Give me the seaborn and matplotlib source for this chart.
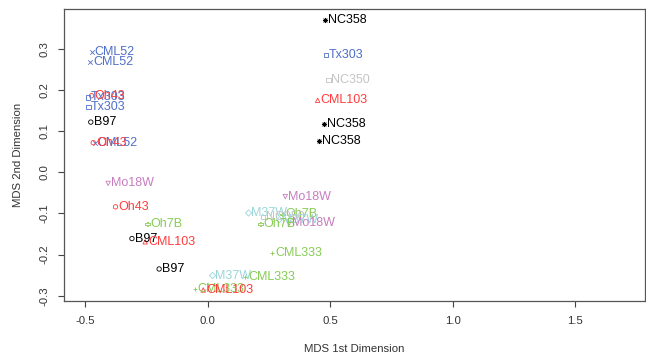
import matplotlib
matplotlib.use('Agg')
import matplotlib.pyplot as plt
from matplotlib.markers import MarkerStyle
import seaborn as sns
import pandas as pd

# MDS coordinates
muestras = ["NC358", "CML52", "CML52", "Tx303", "NC350", "CML103", "NC358", "NC358",
            "Tx303", "Oh43", "Tx303", "B97", "CML52", "Oh43", "Mo18W", "Oh43",
            "Oh7B", "B97", "CML103", "B97", "M37W", "CML333", "CML333", "CML103",
            "CML333", "Mo18W", "M37W", "Oh7B", "NC350", "M37W", "Oh7B", "Mo18W"]
dim1 = [0.478, -0.475, -0.480, 0.481, 0.493, 0.448, 0.475, 0.453,
        -0.490, -0.475, -0.488, -0.478, -0.461, -0.468, -0.407, -0.377,
        -0.247, -0.310, -0.256, -0.199, 0.019, 0.152, -0.054, -0.019,
        0.263, 0.316, 0.166, 0.305, 0.226, 0.292, 0.214, 0.331]
dim2 = [0.371, 0.292, 0.267, 0.285, 0.225, 0.175, 0.118, 0.075,
        0.182, 0.186, 0.158, 0.122, 0.072, 0.072, -0.027, -0.084,
        -0.126, -0.161, -0.169, -0.235, -0.251, -0.255, -0.284, -0.286,
        -0.197, -0.059, -0.099, -0.102, -0.108, -0.115, -0.126, -0.124]

colores = {"NC358": "#000000", "B97": "#000000", "CML52": "#4f6fc8", "Tx303": "#4f6fc8",
           "NC350": "#c4c4c4", "CML103": "#ff3b3b", "Oh43": "#ff3b3b",
           "Mo18W": "#c77cc0", "Oh7B": "#86cc55", "CML333": "#86cc55", "M37W": "#9bd6d9"}
marcadores = {"NC358": (8, 2, 0), "B97": "o", "CML52": "x", "Tx303": "s", "NC350": "s",
              "CML103": "^", "Oh43": "o", "Mo18W": "v", "Oh7B": "P", "CML333": "+", "M37W": "D"}

df = pd.DataFrame({"muestra": muestras, "dim1": dim1, "dim2": dim2})

sns.set_style("white")
plt.rcParams['font.family'] = ['Liberation Sans', 'DejaVu Sans']
plt.rcParams['axes.unicode_minus'] = False

fig = plt.figure(figsize=(6.46, 3.58), dpi=100)
ax = fig.add_axes([0.099, 0.159, 0.899, 0.816])

for nombre, sub in df.groupby("muestra"):
    m = marcadores[nombre]
    if m in ("x", "+") or isinstance(m, tuple):
        mk = m
    else:
        mk = MarkerStyle(m, fillstyle="none")
    sns.scatterplot(data=sub, x="dim1", y="dim2", color=colores[nombre], marker=mk,
                    s=10, linewidth=0.6, legend=False, ax=ax)

for _, fila in df.iterrows():
    ax.annotate(fila["muestra"], (fila["dim1"], fila["dim2"]), xytext=(2.0, 0),
                textcoords="offset points", ha="left", va="center",
                fontsize=9, color=colores[fila["muestra"]])

ax.set_xlim(-0.5875, 1.783)
ax.set_ylim(-0.313, 0.397)
ax.set_xticks([-0.5, 0.0, 0.5, 1.0, 1.5])
ax.set_yticks([-0.3, -0.2, -0.1, 0.0, 0.1, 0.2, 0.3])
ax.set_xticklabels(["-0.5", "0.0", "0.5", "1.0", "1.5"])
ax.set_yticklabels(["-0.3", "-0.2", "-0.1", "0.0", "0.1", "0.2", "0.3"], rotation=90, va="center")
ax.tick_params(axis="both", direction="out", length=4.5, width=0.8, color="#444444",
               labelsize=8.2, labelcolor="#333333", pad=6, bottom=True, left=True)
for sp in ax.spines.values():
    sp.set_color("#555555")
    sp.set_linewidth(0.9)

ax.set_xlabel("MDS 1st Dimension", fontsize=8.2, color="#333333")
ax.set_ylabel("MDS 2nd Dimension", fontsize=8.2, color="#333333")
ax.xaxis.set_label_coords(0.5, -0.148)
ax.yaxis.set_label_coords(-0.071, 0.5)

fig.savefig("out.png", dpi=100)
plt.close()
